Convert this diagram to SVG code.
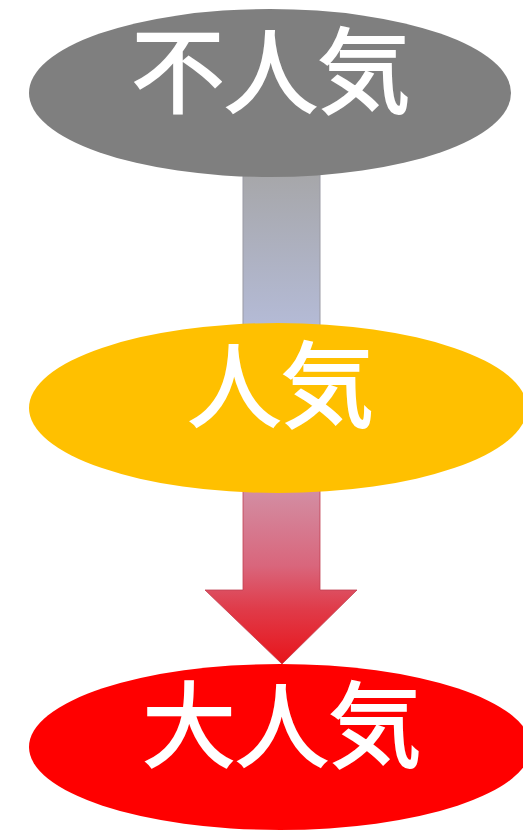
<svg xmlns="http://www.w3.org/2000/svg" width="523" height="831" viewBox="0 0 523 831">
<defs>
<linearGradient id="g1" x1="0" y1="0" x2="0" y2="1">
<stop offset="0" stop-color="#a6a6a8"/>
<stop offset="1" stop-color="#b5bcd9"/>
</linearGradient>
<linearGradient id="g2" x1="0" y1="0" x2="0" y2="1">
<stop offset="0" stop-color="#d291a6"/>
<stop offset="0.45" stop-color="#d9667c"/>
<stop offset="0.7" stop-color="#e03a48"/>
<stop offset="1" stop-color="#e8141a"/>
</linearGradient>
<style>
.lbl{font-family:"Noto Sans CJK JP","Noto Sans CJK SC",sans-serif;font-weight:normal;font-size:93px;fill:#fff;stroke:#fff;stroke-width:2;text-anchor:middle}
</style>
</defs>
<g id="connectors">
<rect x="243" y="170" width="77" height="165" fill="url(#g1)" stroke="#9a9aa4" stroke-width="1"/>
<path d="M243,485 L320,485 L320,590 L357,590 L282,664 L205,590 L243,590 Z" fill="url(#g2)" stroke="#c04050" stroke-width="0.8"/>
</g>
<g id="n1">
<ellipse cx="270" cy="93" rx="241" ry="84" fill="#7f7f7f"/>
<text class="lbl" x="271" y="106">不人気</text>
</g>
<g id="n2">
<ellipse cx="278" cy="408" rx="249" ry="85" fill="#ffc000"/>
<text class="lbl" x="281" y="420">人気</text>
</g>
<g id="n3">
<ellipse cx="280" cy="747" rx="251" ry="83" fill="#ff0000"/>
<text class="lbl" x="282" y="760">大人気</text>
</g>
</svg>
